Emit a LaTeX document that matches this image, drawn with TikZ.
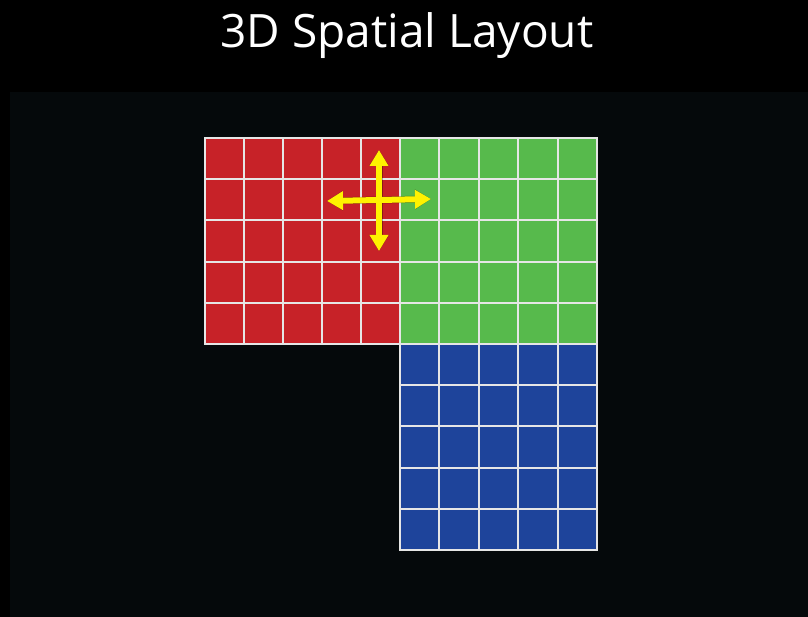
\documentclass[tikz,border=0pt]{standalone}
\usepackage{fontspec}
\setmainfont{Open Sans}
\usetikzlibrary{arrows.meta}
\definecolor{panel}{HTML}{05090B}
\definecolor{cred}{HTML}{C72228}
\definecolor{cgreen}{HTML}{57BA4C}
\definecolor{cblue}{HTML}{1E449B}
\definecolor{gridc}{HTML}{E6E6E6}
\definecolor{arrowc}{HTML}{FFF200}
\tikzset{
  gridline/.style={draw=gridc, line width=2pt},
  yarrow/.style={draw=arrowc, line width=6pt, {Triangle[length=16pt,width=18pt]}-{Triangle[length=16pt,width=18pt]}},
  shadowarrow/.style={draw=black, opacity=0.3, line width=7pt, {Triangle[length=16pt,width=19pt]}-{Triangle[length=16pt,width=19pt]}},
  titletext/.style={text=white, font=\fontsize{46}{52}\selectfont, inner sep=0pt, anchor=base}
}
\begin{document}
\begin{tikzpicture}[x=1pt,y=-1pt]
\useasboundingbox (0,0) rectangle (808,617);
\fill[black] (0,0) rectangle (808,617);
\fill[panel] (10,92) rectangle (808,617);
\node[titletext] (title) at (407,48) {3D Spatial Layout};
% blocks
\fill[cred] (205,138) rectangle (400,344);
\fill[cgreen] (400,138) rectangle (597,344);
\fill[cblue] (400,344) rectangle (597,550);
% grids
\foreach \i in {1,...,4} {
  \draw[gridline] ({205+\i*39},138) -- ({205+\i*39},344);
  \draw[gridline] (205,{138+\i*41.2}) -- (400,{138+\i*41.2});
  \draw[gridline] ({400+\i*39.4},138) -- ({400+\i*39.4},550);
  \draw[gridline] (400,{138+\i*41.2}) -- (597,{138+\i*41.2});
  \draw[gridline] (400,{344+\i*41.2}) -- (597,{344+\i*41.2});
}
\draw[gridline] (205,138) rectangle (400,344);
\draw[gridline] (400,138) rectangle (597,344);
\draw[gridline] (400,344) rectangle (597,550);
% arrows
\coordinate (L) at (327,201);
\coordinate (R) at (431,199);
\coordinate (T) at (379,150);
\coordinate (B) at (379,251);
\begin{scope}[shift={(3pt,-4pt)}]
\draw[shadowarrow] (L) -- (R);
\draw[shadowarrow] (T) -- (B);
\end{scope}
\draw[yarrow] (L) -- (R);
\draw[yarrow] (T) -- (B);
\end{tikzpicture}
\end{document}
